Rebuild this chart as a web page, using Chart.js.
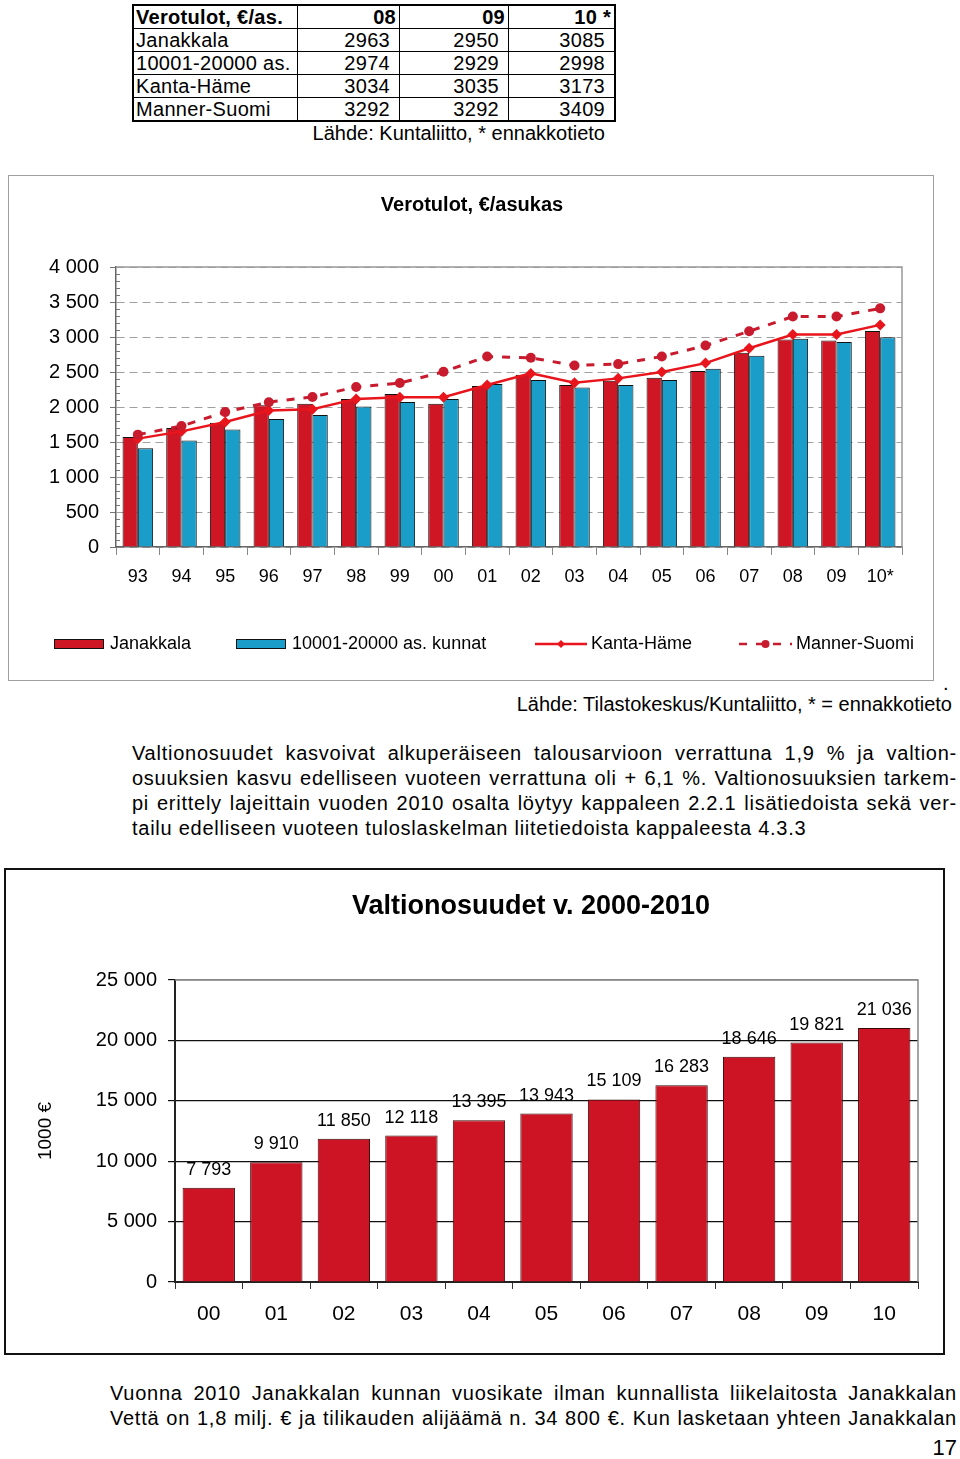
<!DOCTYPE html>
<html>
<head>
<meta charset="utf-8">
<script src="https://cdn.jsdelivr.net/npm/chart.js@4.4.1/dist/chart.umd.min.js"></script>
<style>
  html,body{margin:0;padding:0;background:#fff;}
  body{width:960px;height:1459px;position:relative;overflow:hidden;font-family:"Liberation Sans",Arial,Helvetica,sans-serif;color:#000;}
  .abs{position:absolute;}
  table.t{position:absolute;left:132px;top:4px;border-collapse:collapse;font-size:20px;line-height:20px;letter-spacing:0.3px;}
  table.t td{border:1.5px solid #000;height:22px;padding:0 9px 0 3px;white-space:nowrap;text-align:right;}
  table.t td.n{text-align:left;padding:0 0 0 2px;}
  table.t tr.h td{font-weight:bold;padding-right:3px;}
  table.t{border:2.5px solid #000;}
  .clip{display:block;width:158px;overflow:hidden;white-space:nowrap;}
  .line{position:absolute;font-size:20px;line-height:25px;height:25px;white-space:nowrap;letter-spacing:0.75px;}
  .just{text-align:justify;text-align-last:justify;}
  #f1{position:absolute;left:8px;top:175px;width:926px;height:506px;box-sizing:border-box;border:1.5px solid #a0a0a0;}
  #f2{position:absolute;left:4px;top:868px;width:941px;height:487px;box-sizing:border-box;border:2px solid #111;}
  canvas{position:absolute;}
</style>
</head>
<body>

<table class="t">
  <tr class="h"><td class="n" style="width:158px">Verotulot, €/as.</td><td style="width:95px">08</td><td style="width:102px">09</td><td style="width:99px">10 *</td></tr>
  <tr><td class="n">Janakkala</td><td>2963</td><td>2950</td><td>3085</td></tr>
  <tr><td class="n"><span class="clip">10001-20000 as. kunnat</span></td><td>2974</td><td>2929</td><td>2998</td></tr>
  <tr><td class="n">Kanta-Häme</td><td>3034</td><td>3035</td><td>3173</td></tr>
  <tr><td class="n">Manner-Suomi</td><td>3292</td><td>3292</td><td>3409</td></tr>
</table>
<div class="abs" style="right:355px;top:122px;font-size:20px;line-height:22px;">Lähde: Kuntaliitto, * ennakkotieto</div>

<div id="f1"></div>
<canvas id="c1" width="922" height="502" style="left:10px;top:177px;"></canvas>

<div class="abs" style="left:943px;top:672px;font-size:20px;line-height:22px;">.</div>
<div class="abs" style="right:8px;top:693px;font-size:20px;line-height:22px;">Lähde: Tilastokeskus/Kuntaliitto, * = ennakkotieto</div>

<div class="line just" style="left:132px;top:741px;width:825px;">Valtionosuudet kasvoivat alkuperäiseen talousarvioon verrattuna 1,9 % ja valtion-</div>
<div class="line just" style="left:132px;top:766px;width:825px;">osuuksien kasvu edelliseen vuoteen verrattuna oli + 6,1 %. Valtionosuuksien tarkem-</div>
<div class="line just" style="left:132px;top:791px;width:825px;">pi erittely lajeittain vuoden 2010 osalta löytyy kappaleen 2.2.1 lisätiedoista sekä ver-</div>
<div class="line" style="left:132px;top:816px;">tailu edelliseen vuoteen tuloslaskelman liitetiedoista kappaleesta 4.3.3</div>

<div id="f2"></div>
<canvas id="c2" width="937" height="483" style="left:6px;top:870px;"></canvas>

<div class="line just" style="left:110px;top:1381px;width:847px;">Vuonna 2010 Janakkalan kunnan vuosikate ilman kunnallista liikelaitosta Janakkalan</div>
<div class="line just" style="left:110px;top:1406px;width:847px;">Vettä on 1,8 milj. € ja tilikauden alijäämä n. 34 800 €. Kun lasketaan yhteen Janakkalan</div>
<div class="abs" style="right:3px;top:1436px;font-size:22px;line-height:24px;">17</div>

<script>
// ---------- Data: chart 1 (Verotulot, €/asukas) ----------
const years1 = ['93','94','95','96','97','98','99','00','01','02','03','04','05','06','07','08','09','10*'];
const janakkala   = [1572,1699,1775,2026,2045,2116,2187,2045,2300,2460,2315,2376,2419,2514,2774,2963,2950,3085];
const kunnat      = [1411,1520,1680,1827,1884,2007,2073,2116,2329,2386,2277,2315,2386,2547,2731,2974,2929,2998];
const kantaHame   = [1548,1652,1785,1950,1969,2116,2140,2140,2315,2480,2348,2409,2499,2627,2840,3034,3035,3173];
const mannerSuomi = [1605,1728,1927,2069,2144,2286,2343,2504,2722,2703,2594,2613,2722,2878,3082,3292,3292,3409];
const seriesNames1 = ['Janakkala','10001-20000 as. kunnat','Kanta-Häme','Manner-Suomi'];

// ---------- Data: chart 2 (Valtionosuudet v. 2000-2010) ----------
const years2 = ['00','01','02','03','04','05','06','07','08','09','10'];
const valtionosuudet = [7793,9910,11850,12118,13395,13943,15109,16283,18646,19821,21036];

const FONT = '"Liberation Sans", Arial, sans-serif';
const fmt = v => String(v).replace(/\B(?=(\d{3})+(?!\d))/g, ' ');

Chart.defaults.font.family = FONT;
Chart.defaults.color = '#000';

// plot-area frame (top + right edges)
const plotFrame = {
  id: 'plotFrame',
  afterDraw(chart, args, opts) {
    const {ctx, chartArea: a} = chart;
    ctx.save();
    ctx.strokeStyle = opts.color; ctx.lineWidth = opts.width;
    ctx.beginPath();
    ctx.moveTo(a.left, a.top); ctx.lineTo(a.right, a.top); ctx.lineTo(a.right, a.bottom);
    ctx.stroke();
    ctx.restore();
  }
};

// minor ticks on y axis (chart 1)
const minorTicks = {
  id: 'minorTicks',
  afterDraw(chart, args, opts) {
    if (!opts.step) return;
    const {ctx, chartArea: a} = chart;
    const y = chart.scales.y;
    ctx.save();
    ctx.strokeStyle = opts.color; ctx.lineWidth = 1;
    for (let v = y.min; v <= y.max; v += opts.step) {
      if (v % opts.major === 0) continue;
      const py = Math.round(y.getPixelForValue(v)) + 0.5;
      ctx.beginPath(); ctx.moveTo(a.left, py); ctx.lineTo(a.left + opts.len, py); ctx.stroke();
    }
    ctx.restore();
  }
};

// legend drawn at fixed slots (chart 1)
const slotLegend = {
  id: 'slotLegend',
  afterDraw(chart, args, opts) {
    if (!opts.slots) return;
    const ctx = chart.ctx;
    ctx.save();
    ctx.font = opts.font; ctx.textBaseline = 'middle'; ctx.fillStyle = '#000';
    chart.data.datasets.forEach((ds, i) => {
      const s = opts.slots[i]; if (!s) return;
      const y = opts.y;
      if ((ds.type || 'bar') === 'bar') {
        ctx.fillStyle = ds.backgroundColor;
        ctx.fillRect(s.x, y - 5, s.w, 10);
        ctx.strokeStyle = '#111'; ctx.lineWidth = 1;
        ctx.strokeRect(s.x + 0.5, y - 5 + 0.5, s.w - 1, 9);
      } else {
        ctx.strokeStyle = ds.borderColor; ctx.lineWidth = 2.5;
        ctx.setLineDash(ds.borderDash || []);
        ctx.beginPath(); ctx.moveTo(s.x, y); ctx.lineTo(s.x + s.w, y); ctx.stroke();
        ctx.setLineDash([]);
        ctx.fillStyle = ds.borderColor;
        const cx = s.x + s.w / 2;
        ctx.beginPath();
        if (ds.pointStyle === 'rectRot') {
          ctx.moveTo(cx, y - 4); ctx.lineTo(cx + 4, y); ctx.lineTo(cx, y + 4); ctx.lineTo(cx - 4, y); ctx.closePath();
        } else {
          ctx.arc(cx, y, 4, 0, Math.PI * 2);
        }
        ctx.fill();
      }
      ctx.fillStyle = '#000';
      ctx.fillText(ds.label, s.tx, y);
    });
    ctx.restore();
  }
};

// value labels above bars (chart 2)
const barValues = {
  id: 'barValues',
  afterDatasetsDraw(chart, args, opts) {
    if (!opts.enabled) return;
    const ctx = chart.ctx;
    const meta = chart.getDatasetMeta(0);
    ctx.save();
    ctx.font = opts.font; ctx.fillStyle = '#000';
    ctx.textAlign = 'center'; ctx.textBaseline = 'middle';
    meta.data.forEach((bar, i) => {
      ctx.fillText(fmt(chart.data.datasets[0].data[i]), bar.x, bar.y - opts.offset);
    });
    ctx.restore();
  }
};
// chart title at a fixed position
const fixedTitle = {
  id: 'fixedTitle',
  afterDraw(chart, args, opts) {
    if (!opts.text) return;
    const ctx = chart.ctx;
    ctx.save();
    ctx.font = opts.font; ctx.fillStyle = '#000';
    ctx.textAlign = 'center'; ctx.textBaseline = 'middle';
    ctx.fillText(opts.text, opts.x, opts.y);
    ctx.restore();
  }
};

Chart.register(plotFrame, minorTicks, slotLegend, barValues, fixedTitle);

// ---------- Chart 1 ----------
new Chart(document.getElementById('c1'), {
  type: 'bar',
  data: {
    labels: years1,
    datasets: [
      {label: seriesNames1[0], data: janakkala, backgroundColor: '#cf1625', borderColor: '#111', borderWidth: 1, order: 2},
      {label: seriesNames1[1], data: kunnat, backgroundColor: '#1b9dc9', borderColor: '#111', borderWidth: 1, order: 2},
      {type: 'line', label: seriesNames1[2], data: kantaHame, borderColor: '#e8151c', backgroundColor: '#e8151c',
       borderWidth: 2.5, pointStyle: 'rectRot', pointRadius: 5.5, pointBorderWidth: 0, tension: 0, order: 1},
      {type: 'line', label: seriesNames1[3], data: mannerSuomi, borderColor: '#c81b2e', backgroundColor: '#c81b2e',
       borderWidth: 3, borderDash: [8, 9], pointStyle: 'circle', pointRadius: 5, pointBorderWidth: 0, tension: 0, order: 0}
    ]
  },
  options: {
    responsive: false, animation: false, devicePixelRatio: 1,
    layout: {padding: {left: 0, right: 30, top: 90, bottom: 0}},
    datasets: {bar: {categoryPercentage: 0.7, barPercentage: 1.0}},
    plugins: {
      legend: {display: false},
      tooltip: {enabled: false},
      title: {display: false},
      plotFrame: {color: '#999', width: 1.5},
      minorTicks: {step: 100, major: 500, len: 4, color: '#777'},
      slotLegend: {y: 467, font: '18px ' + FONT, slots: [
        {x: 44, w: 50, tx: 100}, {x: 226, w: 50, tx: 282}, {x: 525, w: 52, tx: 581}, {x: 729, w: 53, tx: 786}
      ]},
      barValues: {enabled: false},
      fixedTitle: {text: 'Verotulot, €/asukas', x: 462, y: 28, font: 'bold 20px ' + FONT}
    },
    scales: {
      x: {
        afterFit: s => { s.height = 132; },
        grid: {offset: true, drawOnChartArea: false, drawTicks: true, tickLength: 8, color: '#888', tickColor: '#888'},
        border: {display: true, color: '#666', width: 1.5},
        ticks: {font: {size: 18}, padding: 11, color: '#000', maxRotation: 0, autoSkip: false}
      },
      y: {
        min: 0, max: 4000,
        afterFit: s => { s.width = 106; },
        grid: {color: '#a0a0a0', lineWidth: 1, tickLength: 6, tickColor: '#777', tickBorderDash: [], tickWidth: 1},
        border: {display: true, color: '#666', width: 1.5, dash: [8, 5]},
        ticks: {stepSize: 500, font: {size: 20}, padding: 11, color: '#000', callback: v => fmt(v)}
      }
    }
  }
});

// ---------- Chart 2 ----------
new Chart(document.getElementById('c2'), {
  type: 'bar',
  data: {
    labels: years2,
    datasets: [
      {label: 'Valtionosuudet', data: valtionosuudet, backgroundColor: '#cc1424', borderColor: '#3a0808', borderWidth: 1,
       categoryPercentage: 1.0, barPercentage: 0.775}
    ]
  },
  options: {
    responsive: false, animation: false, devicePixelRatio: 1,
    layout: {padding: {left: 0, right: 25, top: 110, bottom: 0}},
    plugins: {
      legend: {display: false},
      tooltip: {enabled: false},
      title: {display: false},
      plotFrame: {color: '#888', width: 1.5},
      minorTicks: {},
      slotLegend: {},
      barValues: {enabled: true, font: '18px ' + FONT, offset: 18},
      fixedTitle: {text: 'Valtionosuudet v. 2000-2010', x: 525, y: 37, font: 'bold 27px ' + FONT}
    },
    scales: {
      x: {
        afterFit: s => { s.height = 71; },
        grid: {offset: true, drawOnChartArea: false, drawTicks: true, tickLength: 7, color: '#333', tickColor: '#333'},
        border: {display: true, color: '#222', width: 2},
        ticks: {font: {size: 21}, padding: 13, color: '#000', maxRotation: 0, autoSkip: false}
      },
      y: {
        min: 0, max: 25000,
        afterFit: s => { s.width = 169; },
        title: {display: true, text: '1000 €', font: {size: 19}, padding: {top: 28, bottom: 0}, color: '#000'},
        grid: {color: c => (c.tick && c.tick.value === 25000) ? '#888' : '#111', lineWidth: 1.2, tickLength: 7, tickColor: '#111'},
        border: {display: true, color: '#222', width: 2},
        ticks: {stepSize: 5000, font: {size: 20}, padding: 11, color: '#000', callback: v => fmt(v)}
      }
    }
  }
});
</script>
</body>
</html>
